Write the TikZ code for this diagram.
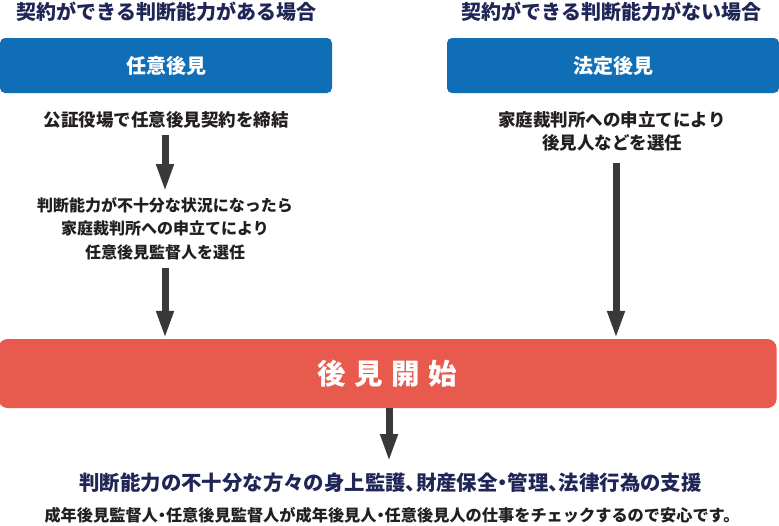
\documentclass[tikz,border=0pt]{standalone}
\usepackage{fontspec}
\setmainfont{Noto Sans CJK JP}
\usetikzlibrary{arrows.meta}
\definecolor{navy}{HTML}{1F2556}
\definecolor{ink}{HTML}{231F20}
\definecolor{bluebox}{HTML}{0F6EB6}
\definecolor{redbox}{HTML}{E8594E}
\definecolor{arrowc}{HTML}{3B3838}
\newcommand{\hcomma}{\makebox[0.5em][l]{、}}
\newcommand{\hdot}{\makebox[0.5em][c]{・}}
\tikzset{
  title/.style={inner sep=0pt, text=navy, font=\fontsize{20}{24}\selectfont\bfseries},
  bbox/.style={fill=bluebox, rounded corners=5pt, minimum width=332pt, minimum height=55pt, inner sep=0pt, text=white, font=\fontsize{20}{24}\selectfont\bfseries},
  rbox/.style={fill=redbox, rounded corners=9pt, minimum width=778pt, minimum height=69pt, inner sep=0pt, text=white, font=\fontsize{28.5}{32}\selectfont\bfseries},
  body/.style={inner sep=0pt, text=ink, align=center},
  arr/.style={draw=arrowc, line width=7pt, -{Triangle[width=16pt,length=28pt]}, arrowc},
}
\begin{document}
\begin{tikzpicture}[x=1pt,y=-1pt]
\useasboundingbox (0,0) rectangle (779,525);
\node[title] (tl) at (166.5,12) {契約ができる判断能力がある場合};
\node[title] (tr) at (611.5,12) {契約ができる判断能力がない場合};
\node[bbox] (nin) at (166,65.5) {任意後見};
\node[bbox] (hou) at (613,65.5) {法定後見};
\node[body, font=\fontsize{17.5}{21}\selectfont\bfseries] (t1) at (166,120) {公証役場で任意後見契約を締結};
\node[body, font=\fontsize{16}{23.5}\selectfont\bfseries] (t2) at (165,228.5) {判断能力が不十分な状況になったら\\家庭裁判所への申立てにより\\任意後見監督人を選任};
\node[body, font=\fontsize{17.5}{23}\selectfont\bfseries] (r1) at (612,131.5) {家庭裁判所への申立てにより\\後見人などを選任};
\node[rbox] (start) at (387.5,373.5) {後\hspace{8.5pt}見\hspace{8.5pt}開\hspace{8.5pt}始};
\node[body, text=navy, font=\fontsize{20.4}{24}\selectfont\bfseries] (s1) at (390.5,483) {判断能力の不十分な方々の身上監護\hcomma 財産保全\hdot 管理\hcomma 法律行為の支援};
\node[body, font=\fontsize{16.2}{19}\selectfont\bfseries] (s2) at (392,515) {成年後見監督人\hdot 任意後見監督人が成年後見人\hdot 任意後見人の仕事をチェックするので安心です。};
\coordinate (a1s) at (165,135);
\coordinate (a1e) at (165,192);
\coordinate (a2s) at (165,268);
\coordinate (a3s) at (616,163);
\coordinate (a4e) at (389,462);
\draw[arr] (a1s) -- (a1e);
\draw[arr] (a2s) -- (a2s |- start.north);
\draw[arr] (a3s) -- (a3s |- start.north);
\draw[arr] (start.south -| a4e) -- (a4e);
\end{tikzpicture}
\end{document}
